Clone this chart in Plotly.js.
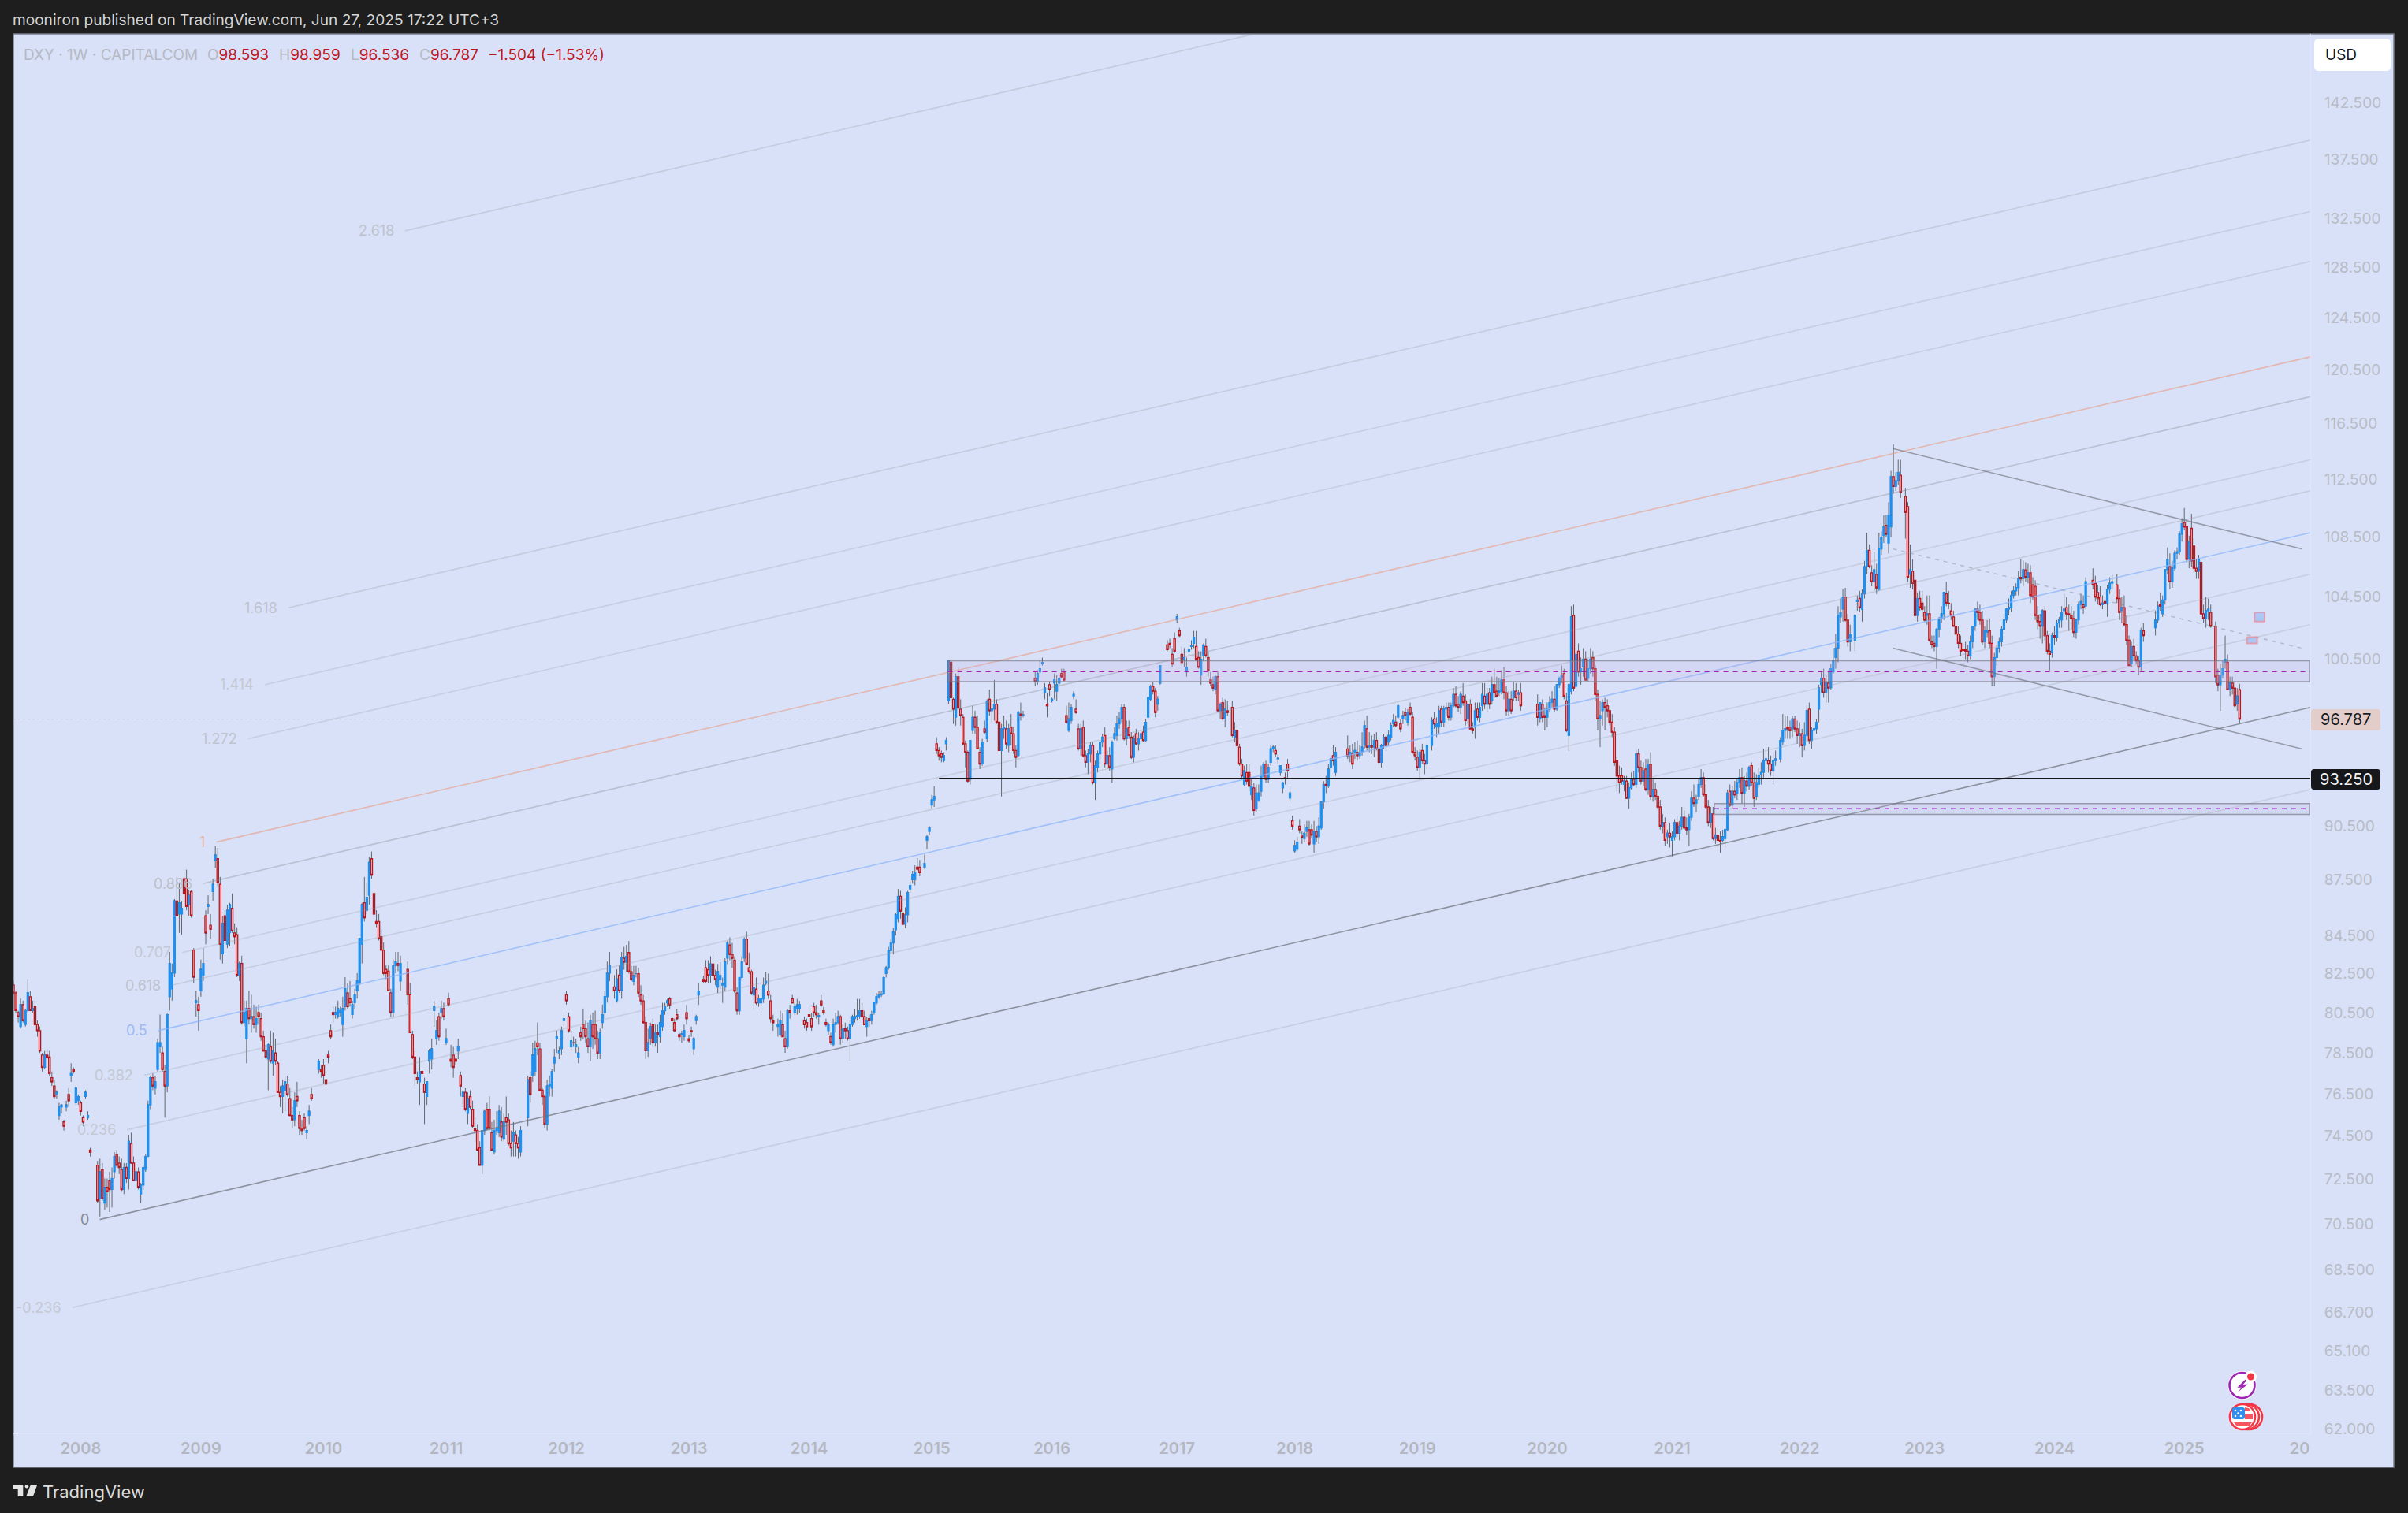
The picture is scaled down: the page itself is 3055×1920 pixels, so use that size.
<!DOCTYPE html>
<html><head><meta charset="utf-8">
<script src="https://cdn.plot.ly/plotly-3.0.1.min.js"></script>
<style>html,body{margin:0;padding:0;background:#1e1e1e;overflow:hidden}</style>
</head><body><div id="chart" style="width:3055px;height:1920px"></div>
<script>
var G='gap';
// weekly candles, each row: open,high,low,close
var a1=[81.3,81.5,80.8,80.9,80.9,81,79.9,80,79.9,80,79.4,79.7,79.2,80.6,79.1,80.3,80.3,80.5,79.4,79.5,79.3,80.1,79.2,80,80,81.6,79.9,80.9,80.7,81,80,80,80,80.5,79.9,80.1,80.2,80.5,79.2,79.3,79.3,79.5,78.7,79,79,79.2,77.9,78,77.8,77.9,77,77.2,77.2,78,77.1,77.8,77.8,78.1,77.6,77.7,77.7,78,76.8,76.9,76.7,77,76.3,76.5,76.3,76.6,75.7,75.8,75.9,76.1,75.7,76,74.9,75.5,74.7,75.3,75.3,75.4,75,75.4,74.6,74.7,74.2,74.4,75.3,75.6,75.1,75.4,75.9,76.2,75.3,75.6,76.8,77.4,76.5,76.9,77.1,77.2,76.9,77,75.5,76.3,75.4,76.2,75.6,75.9,75.4,75.8,75.5,75.6,74.9,75.1,74.8,74.9,74.4,74.6,75.8,76.1,75.7,76,74.8,75.1,74.7,74.9,73.3,73.4,73,73.2];
var a2=[72.6,72.8,70.9,71,71.1,72.9,70.3,72.3,72.4,72.7,71,71.1,70.9,72,70.6,71.6,71.6,72,70.7,71.4,71.9,72.3,70.5,71.5,71.5,72.5,70.7,72,72.3,73.2,72,73,73.1,73.3,72.5,72.6,72.7,73,72.2,72.5,72.4,72.9,71.4,71.5,71.5,72.7,71.3,72.5,72.5,72.7,71.8,72,72,74,71.5,73.7,73.6,74.1,72.7,72.7,72.7,73,71.9,71.9,71.9,72.5,71.5,72.3,72.3,72.5,71.5,71.6,71.3,71.8,70.9,71.7,71.7,72.6,71.5,72.5,72.4,73.1,72.3,73,73,75.6,73,75.4,75.4,76.8,75.2,76.7,76.7,76.9,76.1,76.3,76.2,76.8,75.9,76.5,77.1,78.6,77,78.4,78.2,79.8,77.9,78.4,77.9,78.2,77,77.1,77,77.3,74.8,76.3,76.3,79.9,76,79.8,80.7,83,80,82.4,81.1,82.4,80.5,81.9,81.9,85.8,81.7,85.7,85.7,87,84.9,84.9,85,86.7,84,85.6,85,85.7,83.9,85.3,86.9,87.3,85.5,86.1,86.9,87.4,85.2,85.4,85.5,86.3,84.9,86,86.2,86.3,84.8,84.9];
var a3=[83.1,83.2,81.4,81.7,80.4,81,79.7,80.5,80.3,80.7,79,80,81,82.6,80.7,82.1,81.8,83.2,81.5,82.4,84.9,85.2,83.4,84,85.4,86,85,85.5,84.4,85,83.7,84.2,86.2,86.9,85.7,86.6,87.9,88.7,87.5,88.2,88,88.6,86.5,86.7,86.6,87,82.6,83.4,82.9,84.9,82.4,84.5,84.9,85.2,83.5,83.6,83.4,85.5,83.2,85.2,84,85.6,83.3,85.5,85.3,86.1,84,84.1,84,84.5,83.4,83.8,83.9,84.3,81.7,81.8,81.8,82.5,81.5,82.4,82.4,82.8,79.3,79.4,79.4,80.5,79.2,79.9,78.6,80.5,77.4,80.1,80.1,81,79.3,79.6,79.6,80.8,78.9,79.7,79.7,80.3,79.1,79.3,79.3,80.2,78.9,79.6,79.9,80.3,79.3,79.7,79.6,79.9,78.5,78.7,78.7,79,78,78,78,78.3,77.6,77.7,77.6,78.4,76.1,78.3,78.2,79,77.4,77.5,77.4,78.9,76.8,78,77.9,78.6,77.3,77.5,77.4,77.5,76,76,76,76.3,75.3,75.8,75.8,76.6,75,76.3,76.1,76.8,75.1,76.5,76.4,76.8,75.8,75.9,75.7,76.2,74.9,74.9,74.9,75.3,74.3,74.7,74.7,76,74.4,75.6,75.8,76.5,75.3,75.6,74.9,75.1,74,74.3,74.3,74.7,74,74.2,74.8,75,74.2,74.3,74.1,74.4,73.8,74.2,74.9,75.4,74.5,75.1,75.9,76.2,75.6,75.7];
var a4=[77.1,77.6,76.9,77.5,77.1,77.3,76.7,77,77.3,77.6,76.4,76.8,76.6,76.9,76.1,76.4,77.8,78,77.4,77.7,79,79.3,78.6,78.7,79.9,80.2,79.4,79.8,79.8,80.2,79.6,79.9,79.7,80.5,79.6,80.1,79.9,80.2,79.7,80,79.3,80.7,78.7,80.1,80.2,81.7,80,81.1,80.9,81.4,80.1,80.2,80.6,81.5,80.2,80.4,79.8,80.5,79.6,80.3,80.4,81.1,80.1,80.8,81,81.9,80.6,81.5,81.4,83.7,81.3,83.7,83.4,85.6,82.4,85.5,85.6,87,84.6,84.8,85.2,86.7,85,85.9,86,88.1,85.5,87.8,88,88.4,86.9,87.1,86.1,86.3,85,85,84.6,85.2,84.3,84.5,84.6,85,83.6,83.7,83.8,84.2,83.1,83.1,83.1,83.5,81.8,81.9,82.1,82.3,81.6,81.9,82,82.3,81,81,80.9,81.1,79.7,79.9,79.9,82.6,79.7,82.3,82.3,83,81.9,82.5,82.4,83,82,82.3,81.5,82.8,81,82.4];
var a5=[82.1,82.5,80.3,80.8,80.8,81.4,78.9,78.9,78.8,79,77.6,77.7,77.7,78,76.3,76.9,76.7,77,76.4,76.6,76.5,77.7,75.4,77,77,77.3,76.1,76.9,76.4,76.7,74.5,76,75.8,76.5,75.4,76.5,77.5,78.1,76.9,78,77.6,78.6,77.1,78.1,80,80.5,79.2,80.2,78.6,79.5,78.3,79,79.7,79.9,78.5,78.7,79.9,80.5,79.6,80.1,80.1,80.4,79.5,79.7,78.4,79.1,78.3,78.6,80.6,80.9,80.2,80.3,77.6,78.3,77.2,77.5,77.8,78.2,76.7,77.2,77.6,77.7,77.3,77.5,78,78.6,77.6,78.2,76.8,77,75.8,76.3,75.8,76.1,75.3,76,76,76.2,75.1,75.2,75,76,74.5,75.7,75.8,76.1,75.2,75.3,75.2,75.6,74.3,74.4,74.3,74.8,73.7,74.2,74.2,74.5,73.3,73.3,73.4,73.7,72.6,72.6,72.6,74.2,72.2,74.2,74.2,75.2,74,75.1,75.2,75.5,74.2,74.3,75.2,75.8,74.2,74.3,74.1,74.6,73.3,73.3,73.2,74.7,73.1,74.2,74.2,75.1,74,74.3,74.1,75.4,73.9,75.1,74.6,75.3,73.7,73.9,73.8,75,73.7,74.6,74.8,75.8,74,74.6,74.7,75,73.5,73.6,73.6,74.2,73,73.4,73.7,74.6,73,74.1,74,74.2,73,73.6,73.6,73.9,72.9,73.4,73.2,74.4,73,74.2];
var a6=[74.8,76.8,74.4,76.6,76.7,77,75.5,75.9,76.8,78.4,76.5,77.8,77,78.5,76.8,78.1,78.4,79.4,77.8,78.2,78.1,78.4,76.1,76.1,76.1,76.2,75.4,75.8,75.8,75.9,74.3,74.5,74.5,76.6,74.2,76.3,76.3,76.8,75.8,76.4,76.2,77.1,75.8,77,77.4,78.1,77,77.7,78.6,79,77.9,78.7,77.9,78.2,77.6,78,78.1,79.2,77.8,79,79.5,79.9,78.6,79.6];
var a7=[80.8,81,80.3,80.5,79.7,79.9,78.9,79,78.2,79,78,78.5,78.4,78.7,78.2,78.4,78.2,78.6,77.9,78.3,77.7,78.2,77.4,77.9,78.9,79.2,78.5,78.7,79.3,80.1,78.6,79.1,79.1,79.5,78.4,78.7,78.6,79.4,77.9,78.2,78.2,79.8,77.5,79.5,79.3,79.9,78.1,78.7,79.3,80,78.3,78.6,78.6,79,77.6,77.9,77.9,79.1,77.6,78.9,79.4,80.3,79.1,79.8,79.9,81,79.6,80.7,80.7,82.5,80.4,81.9,81.9,83,81.5,82.3];
var a8=[81.2,81.8,80.6,81,80.5,82.1,80.4,81.6,81.8,82.3,80.9,81,81,83,80.6,82.7];
var b1=[83.3,83.9,82.7,83.1,83.1,84,82.6,83.4,83.6,84.2,82.5,82.6,82.6,82.9,82.1,82.2,82.1,82.9,81.9,82.4,82.5,82.9,82.3,82.5,82.5,82.8,81.3,81.5,81.4,81.9,80.9,81.1,81.1,81.4,80,80,80,80.3,78.2,78.6,78.6,79.7,78.3,79,79.2,80,78.9,79.8,79.9,80.2,78.8,79,79,79.9,78.8,79.5,79.5,79.9,78.5,79.4,79.3,80.4,79,80,79.8,81,79.6,80.6,80.6,81,80.4,80.8,81,81.2,80.8,81.1,81.2,81.3,80.7,80.9,80.2,80.3,79.6,80.1,80,80.2,79.6,79.6,80.4,80.7,80.1,80.2,79.4,79.5,79.1,79.3,79.4,79.6,79,79.45,79.3,79.9,79.1,79.6,80.5,80.9,79.9,80.2,79.2,79.4,79,79.1,79.6,79.8,79.3,79.55,78.7,79.3,78.4,79.2,80.1,80.4,79.9,80.3,81.4,82,80.9,81.6];
var b2=[82.2,82.4,82,82.1,82.8,83.2,82,82.1,82.7,83.2,82,82.4,82.4,83.4,82,83,83,83.5,82.1,82.4,82.4,82.7,81.9,82.2,81.8,83,81.5,82.6,82.2,83.1,81.7,82.4,81.9,82.3,81,82,81.8,83.3,81.6,83.1,83.3,84.2,83,84.1,84,84.4,83.2,83.5,83.5,84.1,82.8,83.3,83.2,83.4,81.5,81.6,81.5,81.8,80.4,80.6,80.6,82.3,80.4,82.3,82.3,83.4,82.2,83.1,83.3,84.4,83.1,84.3,84.3,84.7,83,83,82.8,83.6,82.5,82.6,82.6,82.7,81.4,81.5,81.4,82,80.7,81.8,81.7,82.3,80.9,81,81,81.4,80.8,81.2,81,81.7,80.5,81.2,81.2,82.3,81,81.9,82,82.6,81.9,82.1,81.6,82.5,81.2,81.4,81.1,81.4,80,80.2,80.1,80.4,79.6,80];
var b3=[79.8,80.2,79.3,79.9,79.4,80.6,79.3,80.1,79.9,80.5,79.3,79.3,79.2,79.6,78.5,78.8,78.8,80.7,78.7,80.6,80.6,80.9,80.2,80.5,81.2,81.4,81,81,80.5,81,80.4,80.8,80.7,81.2,80.4,80.9,80.7,81.1,80.5,80.9,G,80.1,80.3,79.7,79.9,80,80.2,79.6,79.8,80.4,80.6,80.1,80.3,80.2,80.5,79.6,79.8,80.8,81,80.3,80.5,80.5,80.9,80.2,80.4,80.3,80.5,79.9,80.35,81.1,81.4,80.8,80.9,80.6,80.8,80.4,80.5,80,80.2,79.8,79.9,79.6,80,79.4,79.9,79.3,79.5,78.9,79,78.9,80.2,78.8,79.9,79.9,80.5,79.5,80,80,80.6,79.9,80.3,80.3,80.4,78.9,79.2,79.2,79.9,79,79.7,79.7,80,79.2,79.6,79.6,79.8,79.1,79.2,79.2,79.9,78.1,79.7];
var b4=[79.7,80.1,79.4,79.9,79.9,80.4,79.8,80.3,80.2,80.7,80,80.3,80.3,81.2,80.1,80.35,80.3,81.2,80.2,80.6,80.6,81,80.1,80.3,80.3,80.6,79.9,79.9,79.8,80.3,79.3,80.1,80.2,80.4,79.8,80.1,80.1,80.6,79.9,80.4,80.5,81,80.4,81,81,81.5,80.9,81.3,81.3,81.6,81.2,81.4,81.4,81.6,81.3,81.45,81.45,82.4,81.4,82.3,82.5,82.9,82.3,82.8,82.8,83.9,82.7,83.7,83.7,84.3,83.5,84.1,84.1,84.9,83.5,84.7,84.8,85.7,84.5,85.6,85.4,87,85.2,86.6,86.6,86.9,85.4,85.8,85.7,86.1,84.7,85.1,85.1,86,84.9,85.6,85.6,86.9,85.2,86.8,87,87.5,86.8,87.2,87.5,88,87.3,87.8,87.5,88.3,87.2,87.9,88.2,88.7,88,88.1,88.2,88.6,87.7,87.9,G,88.2,88.9,88.1,88.4];
var c1=[89.7,90,89.2,89.9,90.2,90.5,90,90.4,91.7,92.3,91.5,92,92,92.8,91.6,92.2,95.3,95.7,94.7,94.9,94.9,95.1,94.3,94.6,94.7,94.9,94.2,94.5,94.3,94.8,94.2,94.6,95.3,95.7,94.9,95.5,97.9,100.4,97.7,100.4,100.3,100.5,98,98.1,98,98.1,96.5,97.4,96.9,99.6,96.4,99.4,99.4,100,97.5,97.5,97.4,98,96.4,97,96.9,97.1,95.2,95.3,95.3,95.5,93.9,94.8,94.8,94.9,93,93.1,93.2,95.5,92.9,95.5,96.1,97.6,95.9,96.9,96.9,97.3,95.9,96.3,96.3,97,95,95,94.8,95.1,93.8,94.1,94.1,95.6,94,95.4,96.2,96.7,95.9,96,95.6,98,95.4,97.9,98,98.6,97,97.3,97.3,98,96.6,97.4,97.4,99.2,96.7,97.7,97.7,98,96.5,96.6,96.6,97,94.8,94.9,94.9,96.5,92.2,96.2,96.2,97,95.6,96.3,96.2,96.7,95,95.3,95.2,96.5,94.8,96.2,96.3,97.1,95.2,95.9,95.9,96.3,94.7,94.9,94.9,95.2,93.9,94.5,94.6,97.3,94.5,97.2,97.1,97.8,96.7,97,97,97.3,96.9,97.05];
var c2=[99.3,99.7,98.8,99.1,99.1,99.8,98.9,99.6,99.7,100.4,99.4,99.9,100.2,100.6,100.1,100.3,98.4,99,98,98.7,97.7,98.4,96.9,97.6,98.9,99.1,98.2,98.6,97.9,98.1,97.8,98,99,99.6,98,99.2,98.5,99.5,97.9,98.9,99,99.5,98.9,99.3,99.6,99.9,99.3,99.4,99.7,99.9,99.1,99.2,97,97.6,96.5,96.6,96.1,97.8,96,96.8,96.7,97.7,96.5,97.5,98.2,98.5,98,98.3,97.4,98,97.1,97.2,96.2,96.5,94.9,95,95,96.5,94.6,96.2,96.3,96.7,94.5,94.6,94.6,94.9,93.9,94.2,94.2,95,93.5,94.7,94.7,95.4,94.2,95.2,95.2,95.4,92.9,93,93,94.3,92,94,93.9,94.9,93.6,94.7,94.7,95.5,94.4,95.4,95.4,95.9,95.1,95.7,95.8,96.3,93.9,94.1,94.1,94.9,93.8,94.6,94.6,95.1,93.7,93.9,93.8,95.5,93,95.4,95.6,96.3,95.5,95.9,95.8,97,95.5,96.5,96.5,97.2,96.2,96.8,96.8,97.7,96.6,97.5,97.5,97.7,95.5,95.6,95.6,96.7,95.2,96.2,96.3,96.7,95.6,95.8,95.7,96,94.4,94.5,94.5,95.8,94.2,95.6,95.9,96.2,95.2,95.3,95.3,96,94.9,95.6,95.6,96,94.9,95.9,96,96.4,95.4,95.5,95.5,96.8,95.4,96.6,96.9,98.2,96.8,98.1,98,98.9,97.9,98.8,98.8,99.1,98.3,98.5,98.5,98.7,96.9,97.2,97.7,98.2,97.3,98,99,100.1,98.9,100.1];
var c3=[101.4,101.7,101,101.1,101.5,101.8,101.2,101.4,100.8,101.2,100,100.2,101.8,102.2,100.9,101,103,103.4,102.8,103.2,102.3,102.5,101.9,102,100.8,101.3,100.1,100.3,100.5,101.2,100,100.6,99.7,100.6,99.4,100,101,101.5,100.8,101.1,101.3,101.7,101.1,101.35,101.5,102.3,101.2,101.9,101.3,102.3,100.4,100.5,100.6,101,99.9,100,99.5,101,98.9,100.5,100.7,101.5,100.4,101.4,101.3,101.8,100.6,100.7,100.6,101,99.4,99.8,99.2,99.7,98.8,99,98.9,99.4,98.5,98.7,98.6,99.5,98.3,99.4,99.4,99.7,97.3,97.3,97.3,97.8,96.8,97.7,97.8,98.1,96.7,96.8,96.8,98,96.3,97.4,97.3,97.9,97,97.2];
var c4=[97.5,97.9,95.7,95.8,95.7,96.6,95.4,96.1,96.1,96.5,95,95.2,95.1,95.3,94,94.1,94.1,94.4,93.2,93.4,92.9,94,92.8,93.7,93.6,94.1,92.9,93.1,93.6,94.1,92.5,92.8,92.3,93.3,92,92.8,92.7,93,91.1,91.4,91.5,92.9,91.3,92.4,92,92.9,91.9,92.4,92.5,94,92.2,93.4,93.4,94.2,93.2,94.1,94.1,94.3,93,93.2,93.2,94.1,93,93.9,94.2,95.2,94,95,95,95.2,94.8,95.1,94.9,95.2,94.5,94.7,94.4,94.7,94.1,94.45,93.6,94,93.4,94,92.7,93,92.4,93,93.3,93.6,92.9,93.25,94.1,94.4,93.3,93.7,92.1,92.8,91.9,92.4,90.8,91.1,90.3,90.5,89.1,89.7,89,89.4,89.2,89.9,89.1,89.6,90.5,90.9,90.1,90.3,90,90.2,89.5,89.85,89.8,90.6,89.6,90.1,90.2,90.8,89.9,90.4,90.3,90.8,89.4,89.5,90.3,90.6,89.8,90,89.5,90.8,89,90.2,90.2,90.5,89.6,89.9,89.9,91,89.5,90.5,90.4,91.6,90.3,91.9,91.9,93.1,91.5,92.9,92.9,93.4,92.4,92.85,92.8,94.1,92.7,93.8,93.9,94.6,93.5,94.4,94.6,95.2,94,94.3,93.6,95.1,93.4,94.8];
var c5=[95,95.8,94.4,94.6,94.6,95.2,94.2,94.8,94.7,95.3,93.8,94.1,94.8,95.4,94.4,94.9,94.8,95.5,94.3,94.6,94.6,95.2,94.4,94.8,94.8,96,94.6,95.1,95.2,96.7,95,96.4,96.2,97,94.9,95.1,95.1,96,94.8,95.2,95.2,95.8,94.7,95.1,95.1,95.9,94.5,95.5,95.5,96,94.9,95,95,95.5,94,94.2,94.2,95.3,93.9,95.2,95.2,95.9,95,95.7,95.7,96,94.9,95.2,95.4,96.1,95.2,95.8,95.7,96.6,95.5,96.4,96.5,97.1,96.3,96.7,96.6,97,96.3,96.4,96.9,97.7,96.8,97.6,96.5,96.8,96,96.2,96.8,97.3,96.5,97,97.2,97.5,96.7,97,96.6,97.4,96.4,97.2,97.5,97.8,97,97.1,96.9,97.2,94.7,94.8,94.8,95.1,94.3,94.6,94.5,94.9,93.7,93.9,93.9,95,93.3,94.8,94.9,95.3,94.1,94.3,94.3,94.7,93.5,94.1,94.1,95.3,93.8,95.2];
var c6=[95.2,96.9,94.9,96.7,96.8,97.2,96.2,96.5,96.3,96.9,95.7,96.5,96.3,97.6,95.9,97.3,97.4,97.6,96.3,96.6,96.6,97.6,96.3,97.4,97.4,97.8,97,97.5,97.5,97.8,96.7,96.9,96.9,97.8,96.7,97.6,97.6,98.7,97.5,98.3,98.3,98.8,97.5,97.6,97.7,98.2,97.2,97.5,97.5,98.5,97.1,98.3,98.2,99,97.6,97.8,97.9,98.3,96.4,96.7,96.8,97.9,96.5,97.7,97.7,98,96.2,96.2,96.2,96.6,95.9,96.1,96.3,97.8,95.6,97.3,97.4,97.8,96.7,96.9,96.9,97.8,96.6,97.5,97.6,99,97.3,98.3,98.2,99,97.4,97.7,97.7,98.7,97.2,98.3,98.4,98.7,97.4,97.7,97.9,99.4,97.7,98.9,98.9,99.9,98.1,98.4,98.5,99.4,98.1,98.2,98.4,99.3,98.2,98.5,98.5,99.8,98.3,99.2,99.2,100,98,98.4,98.4,98.8,97,97.3,97.3,98.5,97,98,98,98.5,97.1,97.3,98.1,99.1,97.9,98.5,98.5,99,97.9,98.1,98.3,98.6,97.9,98.4,98.4,99,97.3,97.6];
var d1=[97.7,98.3,96.4,96.9,96.8,97.8,96.6,97.8,97.7,98,96.6,96.9,97,97.5,96.1,96.9,96.9,97.8,96.3,97.4,97.4,98.2,97.2,97.8,97.8,98.5,97.5,98,98,98.8,97.2,97.4,97.4,98.9,97.3,98.9,98.9,99.4,98.7,99.3,99.3,100.1,99,99.5,99.6,99.9,98,98.2,97.9,98.4,96,96.1,95.8,99,94.9,98.9,98.5,103.9,98.3,103.2,103.3,104,98.5,98.7,98.8,101.4,98.4,100.8,101,101.5,99.4,99.7,99.7,100.6,98.9,99.9,100,101.2,99.4,100.5,100.5,101,99.2,99.2,99.3,100.5,99.1,99.9,99.9,101.2,99.6,100.5,100.6,101,99.4,99.9,99.9,100.1,97.9,98.3,98.3,98.6,96.1,96.8,96.8,97.9,95.1,97,97.3,98,96.4,97.8,97.8,98.1,96.1,97.5,97.6,98,96.9,97.3,97.3,97.6,96.4,96.6,96.6,97.1,95.7,96,96,96.3,94,94.2,94.3,94.5,92.5,93.4,93.4,94,92.4,93,93.4,93.9,92.9,93.1];
var d2=[92.9,93.4,92.5,93.1,93.1,93.4,92.2,92.1,92.1,93,91.5,92.7,92.7,93.6,92.6,93.2,93.2,93.7,92.8,92.9,92.9,94.9,92.7,94.7,94.7,95,93.6,93.9,93.9,94.3,92.9,93.1,93.1,94.2,92.8,93.7,93.8,94.4,92.5,92.6,92.6,94.4,92.3,94.1,94.1,94.8,92,92.2,92.2,93.2,91.9,92.6,92.6,93,92,92.2,92.2,92.6,91.5,91.6,91.6,92,90.3,90.5,90.5,91.2,90.1,90.7,90.7,91,89.4,89.7,89.9,90.3,89.5,90.1,90.1,90.7,89.3,89.9,89.7,90.2,88.8,89.9,89.9,90.9,89.7,90.7,90.7,91.1,89.9,90.1,90.1,90.8,89.7,90.5,90.5,91.6,90.3,91,91,91.4,90.3,90.4,90.4,91,90,90.3,90.3,91.2,89.4,91,91,92.5,90.8,92.1,92.1,92.9,91.6,91.8,91.8,92.3,91.3,92,92.2,93.2,92,92.9];
var d3=[92.9,93.8,92.7,93.3,93.3,93.6,92.2,92.3,92.3,92.9,91.5,91.6,91.6,92,90.5,90.7,90.7,91.6,90.4,91.2,91.2,91.6,89.7,89.8,89.8,90.4,89.5,90,90,90.4,89.1,89.7,89.7,90.2,89,89.65,89.7,90.3,89.6,89.9,89.8,90.5,89.3,90.3,90.3,92.6,90.2,92.4,92.5,92.9,91.6,91.7,91.7,92.8,91.5,92.5,92.5,93.1,92.1,92.3,92.4,93.2,92,93,93,93.8,92.7,93.3,93.3,93.9,91.8,92.4,92.4,93.4,91.6,93.1,93.1,93.6,92.5,92.8,92.8,94,92.6,93.9,94,94.2,92.8,93,93,93.6,91.6,92.1,92.2,93.5,92,93,92.9,93.9,92.7,93.4,93.5,94.2,92.9,93.6,93.6,95,93.3,94.3,94.3,95,94,94.4,94.3,95.1,93.6,94.1,94.1,94.6,93.4,93.7,93.7,94.8,92.9,94.3,94.3,94.9,94,94.4];
var d4=[94.4,95.7,94.2,95.5,95.4,97.1,95.2,96.1,96.1,97,95.6,96.2,96.3,97,95.6,96.2,96.3,96.7,95.6,96.1,96.2,97,95.7,96.8,96.8,97,96,96.2,96.2,96.7,95.3,95.8,95.8,96.6,95.1,95.9,95.9,96.2,94.5,95.2,95.2,96.6,94.9,95.8,95.8,97.6,95.5,97.3,97.4,97.8,95.3,95.5,95.5,96.3,95,96.1,96.1,96.6,95.6,96.2,96.2,96.8,95.9,96.6,97.4,98.9,96.6,98.7,98.9,99.7,98.4,99.3,99.3,99.9,98.1,98.4,98.4,99.5,97.8,99,99,99.8,97.8,98.7,98.7,100.2,98.6,99.9,99.7,101.2,99.6,100.4,100.6,102.1,99.9,101.2,101.2,103.9,100.3,103.3,103.2,104.4,102.8,103.5,103.7,105,102.9,104.5,104.5,105.1,102.9,103,103,103.4,101.3,101.6,101.6,102.7,101,102.1];
var e1=[101.7,103.4,101,103.3,104.2,104.6,103.6,104.3,104.4,104.9,103.5,103.8,103.7,105,102.9,104.7,104.7,106.9,104.4,106.5,106.5,108.8,106,107.6,107.6,108,106.4,106.5,106.1,106.6,105.2,105.5,105.5,107.5,104.9,106.3,106,106.7,104.7,105.1,105,108.8,104.9,107.7,107.7,108.9,107.3,108.5,108.6,110,108.1,109.2,109.3,110,108.5,108.7,108.1,110.9,107.4,110,109.2,113.1,108.5,112.7,112.7,115,111.5,112,112,113,111.7,112.4,112.4,113.9,112.1,113,112.8,113.9,111.2,111.6,G,111.3,111.9,108.4,110.2,110.4,110.9,110,110.5];
var e2=[110.6,110.9,105.5,105.8,106,108,105.1,106.3,106.2,107,105,105.4,105.6,105.8,103.1,103.3,103.3,104.8,102.9,104.4,104.4,104.9,103.6,103.8,104.1,104.9,103.2,103.7,103.5,103.9,102.9,103,103.3,104.6,102.7,103.4,103.4,104.6,101.6,101.7,101.6,102,101.2,101.4,101.5,102,101,101.3,101.3,102.5,99.9,102.4,102.4,103.2,101.9,103,103.1,103.9,102.8,103.4,103.4,104.7,103,104.8,104.7,105.5,103.9,104.1,104.1,104.9,103.7,104.05,103.6,104.1,103,103.3,103.2,103.6,102.6,102.6,102.6,103.2,102,102.1,102.1,102.6,101.2,101.5,101.5,102,100.7,101,101.1,101.5,99.9,101.05,101.1,101.6,100.5,101,101,101.4,100.3,100.7,100.7,102,100.5,101.6,101.6,102.6,101.2,102.6,102.6,103.7,102.3,103.7,103.7,104.2,103,103.5,103.5,104,102.7,103,103,103.6,101.4,101.6,101.6,102.6,101.2,102.3,102.2,103,101.9,102.3,102.3,103.1,101.2,101.5,101.5,102,98.8,99.4,99.4,100.9,98.8,100.6];
var e3=[100.6,101.4,100.1,101.2,101.2,101.9,100.9,101.6,101.6,102.6,101.3,102.4,102.4,103.4,102.1,103,103,103.8,102.8,103.7,103.7,104.4,103.3,103.8,103.8,104.9,103.5,104.6,104.6,105.2,104.4,104.9,104.9,105.4,104.6,105.1,105.1,106.2,104.6,105.7,105.8,107,105.4,105.7,105.7,106.9,105.2,106.3,106.3,106.8,105.5,105.8,105.8,106.7,105.4,106.1,106.1,106.6,104.1,104.6,105.3,105.8,104.3,104.5,105.2,105.6,103,103.3,103.3,103.9,102.4,102.9,102.9,103.4,101.8,102.6,102.6,103.7,101.5,103.6,103.6,103.9,101.7,102,102,102.3,100.8,101,101,101.5,99.8,100.8,100.9,102.2,100.6,102,102,102.6,101.4,101.9,101.9,103,101.6,102.8,102.8,103.2,102.5,103,103,103.9,102.5,103.5,103.6,104.7,103.2,103.7,103.8,104.5,103,103.4,103.4,104,102.3,103.35,103.3,103.9,102.4,103.1,103.1,103.6,101.9,102.2,102.2,103.1,101.8,103,103,104.2,102.7,104,104,104.7,103.7,104.2,104,104.6,103.4,103.8,103.9,105.8,103.7,105.5];
var e4=[105.6,106.4,105,105.3,105.4,105.9,104.2,104.5,104.8,105.3,104,104.4,104.5,105.2,103.9,104,104,104.6,103.7,104.1,104.2,105,103.8,104.1,104.1,105.3,103.2,105,105,105.8,104.7,105.4,105.4,106,105,105.5,G,105.3,106,104.1,104.4,104.4,105,103,103.5,103.6,104.5,102.8,103.8,103.8,104.6,102.6,102.7,102.7,103.3,101.4,101.7,101.7,102,100.1,100.1,100.2,101.6,100,101.3,101.3,101.8,100.4,100.7,100.7,101,100.2,100.4,100.4,100.7,99.5,100,100,102.5,99.7,102.3,102.3,102.8,101.6,102];
var e5=[102.5,103.6,102,103,103,104.2,102.8,103.9,104,104.8,103.6,103.9,103.4,104.6,103.2,104.3,104.3,106.3,104,106.3,106.3,107.8,106,107,106.5,107.4,105,105.5,105.5,106.9,105.1,106.4,106.4,107.6,106.2,107.4,107.4,107.8,107,107.5,107.5,108.9,107.3,108.7,108.7,109.8,108.2,109.4,109.5,110.5,109,109.2,109.2,109.7,106.8,107,107,108.6,106.4,108.2,109.1,110.1,106.5,106.9,107.9,108.4,106.1,106.4,106.4,107,105.7,106.2,106.2,107.3,105.7,107,106.8,107.1,103.3,103.4,103.4,104,102.8,103.1,103.1,104.5,102.5,103.6,103.6,104.4,103,103.7,103.5,104,102.5,102.6];
var e6=[102.6,102.9,99,99.4,99.5,99.9,98.5,98.9,98.9,100.2,97.3,99.5,99.5,100.4,99.3,99.9,100.3,102,99.9,100.5,100.3,100.8,98.6,98.6,98.6,99.4,98.2,99,99,99.4,98.3,98.7,98.7,99.1,97.5,97.6,97.7,98.7,97.3,98.2,98.593,98.959,96.536,96.787];
var candleChunks=[a1,a2,a3,a4,a5,a6,a7,a8,b1,b2,b3,b4,c1,c2,c3,c4,c5,c6,d1,d2,d3,d4,e1,e2,e3,e4,e5,e6];
var chunkStartBar=[0,35,75,127,164,214,230,250,254,287,318,348,380,425,480,507,555,590,634,670,702,735,766,788,825,865,891,916];
// the first eight chunks were read against a price scale 0.76% low: this recalibrates those readings
var chunkCalibration=[1.0076,1.0076,1.0076,1.0076,1.0076,1.0076,1.0076,1.0076,1,1,1,1,1,1,1,1,1,1,1,1,1,1,1,1,1,1,1,1];

// fib channel, one row per level
var fibLevels=['-0.236','0','0.236','0.382','0.5','0.618','0.707','0.886','1','1.272','1.414','1.618','2.618'];
var fibStartBar=[24.5,35.9,47.3,54.4,60.2,65.9,70.2,78.9,84.4,97.6,104.5,114.4,162.9];
var fibStartPrice=[66.9,70.7,74.8,77.4,79.6,81.9,83.6,87.3,89.6,95.6,98.9,103.8,131.5];
var fibEndPrice=[92.6,97.5,102.7,106,108.8,111.7,113.9,118.5,121.5,129,133.1,139.2,173.5];
var fibColors=['rgba(150,152,160,.26)','rgba(110,112,122,.7)','rgba(150,152,160,.26)','rgba(150,152,160,.26)','rgba(140,180,250,.75)','rgba(150,152,160,.3)','rgba(150,152,160,.26)','rgba(130,132,140,.36)','rgba(235,150,120,.55)','rgba(150,152,160,.26)','rgba(150,152,160,.26)','rgba(150,152,160,.3)','rgba(150,152,160,.3)'];
var fibLabelColors=['#c4c8d2','#85888f','#c4c8d2','#c4c8d2','#9dbaf2','#bfc3cd','#c4c8d2','#bbbfc8','#eab3a0','#bfc3cd','#c4c8d2','#bfc3cd','#bfc3cd'];
var lastBar=955.4;

var flagBars=[781.8,951.8];
var flagUpper=[114.7,107.7];
var flagMiddle=[107.7,101.2];
var flagLower=[101.2,95];
var upperZone={start:388.7,top:100.4,mid:99.72,bottom:99.09};
var lowerZone={start:707.5,top:91.79,mid:91.5,bottom:91.17};
var support={start:385,price:93.25};
var lastClose=96.787;
var markerBoxes=[{x0:932.2,x1:936.4,top:103.5,bottom:102.9},{x0:929,x1:933.3,top:101.9,bottom:101.5}];

var yearTickBars=[28,78,129,180,230,281,331,382,432,484,533,584,638,690,743,795,849,903,951];
var yearTickText=['2008','2009','2010','2011','2012','2013','2014','2015','2016','2017','2018','2019','2020','2021','2022','2023','2024','2025','20'];
var priceTickVals=[142.5,137.5,132.5,128.5,124.5,120.5,116.5,112.5,108.5,104.5,100.5,90.5,87.5,84.5,82.5,80.5,78.5,76.5,74.5,72.5,70.5,68.5,66.7,65.1,63.5,62];

// flatten
var X=[],O=[],H=[],L=[],C=[];
candleChunks.forEach(function(seg,s){
  var bar=chunkStartBar[s],k=0,m=chunkCalibration[s];
  while(k<seg.length){
    if(seg[k]===G){bar++;k++;continue;}
    X.push(bar);O.push(seg[k]*m);H.push(seg[k+1]*m);L.push(seg[k+2]*m);C.push(seg[k+3]*m);
    bar++;k+=4;
  }
});
var bodyHi=O.map(function(o,i){return Math.max(o,C[i]);});
var bodyLo=O.map(function(o,i){return Math.min(o,C[i]);});
var wickHi=H.map(function(h,i){return Math.max(h,bodyHi[i]);});
var wickLo=L.map(function(l,i){return Math.min(l,bodyLo[i]);});

// pixel helpers for page furniture only
var PL=17,PT=43,PW=2914,PH=1776;
function px(v){return (v-PL)/PW;}
function py(v){return 1-(v-PT)/PH;}
function poly(pts){return 'M'+pts.map(function(p){return px(p[0])+' '+py(p[1]);}).join('L')+'Z';}
function rrect(x0,y0,x1,y1,r){
  function P(a,b){return px(a)+' '+py(b);}
  return 'M'+P(x0+r,y0)+'L'+P(x1-r,y0)+'Q'+P(x1,y0)+' '+P(x1,y0+r)+'L'+P(x1,y1-r)+'Q'+P(x1,y1)+' '+P(x1-r,y1)+'L'+P(x0+r,y1)+'Q'+P(x0,y1)+' '+P(x0,y1-r)+'L'+P(x0,y0+r)+'Q'+P(x0,y0)+' '+P(x0+r,y0)+'Z';
}
function sh(o){o.xref='paper';o.yref='paper';o.layer=o.layer||'above';if(!o.line)o.line={width:0};return o;}
function circ(cx,cy,r,fill,lc,lw){return sh({type:'circle',x0:px(cx-r),x1:px(cx+r),y0:py(cy+r),y1:py(cy-r),fillcolor:fill,line:{color:lc||fill,width:lw||0}});}
function pathS(d,fill){return sh({type:'path',path:d,fillcolor:fill});}

var BG='#d8e1f8';
var traces=[];
// wicks then bodies, so the bodies cover the wick inside them
traces.push({type:'candlestick',x:X,open:C,close:C,high:wickHi,low:wickLo,hoverinfo:'skip',showlegend:false,
  increasing:{line:{color:'#55585f',width:0.9},fillcolor:'#55585f'},decreasing:{line:{color:'#55585f',width:0.9},fillcolor:'#55585f'}});
traces.push({type:'candlestick',x:X,open:O,close:C,high:bodyHi,low:bodyLo,hoverinfo:'skip',showlegend:false,
  increasing:{line:{color:'#1f8fee',width:1.1},fillcolor:'#1f8fee'},decreasing:{line:{color:'#b8161c',width:1.3},fillcolor:'#e4c3cc'}});
function line(x,y,color,w,dash){traces.push({type:'scatter',mode:'lines',x:x,y:y,line:{color:color,width:w,dash:dash||'solid'},hoverinfo:'skip',showlegend:false});}
fibLevels.forEach(function(l,i){line([fibStartBar[i],lastBar],[fibStartPrice[i],fibEndPrice[i]],fibColors[i],1.6);});
line([0,lastBar],[lastClose,lastClose],'rgba(150,150,160,.3)',1,'dot');
function zone(z){
  traces.push({type:'scatter',mode:'lines',x:[z.start,lastBar,lastBar,z.start,z.start],y:[z.top,z.top,z.bottom,z.bottom,z.top],fill:'toself',fillcolor:'rgba(200,175,225,.2)',line:{color:'rgba(110,112,122,.62)',width:1.5},hoverinfo:'skip',showlegend:false});
  line([z.start,lastBar],[z.mid,z.mid],'#a91fb8',1.6,'6px,6px');
}
zone(upperZone);zone(lowerZone);
line([support.start,lastBar],[support.price,support.price],'#16171b',1.8);
line(flagBars,flagUpper,'rgba(110,112,122,.62)',1.6);
line(flagBars,flagLower,'rgba(110,112,122,.62)',1.6);
line(flagBars,flagMiddle,'rgba(130,132,145,.45)',1.4,'5px,6px');
markerBoxes.forEach(function(b){
  traces.push({type:'scatter',mode:'lines',x:[b.x0,b.x1,b.x1,b.x0,b.x0],y:[b.top,b.top,b.bottom,b.bottom,b.top],fill:'toself',fillcolor:'rgba(145,180,245,.6)',line:{color:'rgba(235,140,155,.75)',width:2},hoverinfo:'skip',showlegend:false});
});

var F='Inter, "Noto Sans", sans-serif';
var anns=[];
function txt(x,y,t,size,color,extra){var a={xref:'paper',yref:'paper',x:px(x),y:py(y),text:t,showarrow:false,xanchor:'left',yanchor:'middle',font:{family:F,size:size,color:color},borderpad:0};for(var k in extra)a[k]=extra[k];anns.push(a);}
txt(15,25,'mooniron published on TradingView.com, Jun 27, 2025 17:22 UTC+3',19.1,'#d6d6d6');
var GR='#b6b9c3',RD='#c0161c';
txt(29,69,'DXY · 1W · CAPITALCOM',19,GR);
txt(262,69,'O<span style="color:'+RD+'">98.593</span>',19,GR);
txt(353,69,'H<span style="color:'+RD+'">98.959</span>',19,GR);
txt(444,69,'L<span style="color:'+RD+'">96.536</span>',19,GR);
txt(531,69,'C<span style="color:'+RD+'">96.787</span>',19,GR);
txt(618,69,'−1.504 (−1.53%)',19,RD);
txt(2949,69,'USD',19,'#131722');
txt(53,1893,'TradingView',22,'#dcdcdc');
txt(2976,913,'96.787',20,'#1a1c22',{xanchor:'center'});
txt(2976,989,'93.250',20,'#f2f2f2',{xanchor:'center'});
fibLevels.forEach(function(l,i){
  anns.push({xref:'x',yref:'y',x:fibStartBar[i],y:Math.log10(fibStartPrice[i]),text:l,showarrow:false,xanchor:'right',yanchor:'middle',xshift:-12,font:{family:F,size:18,color:fibLabelColors[i]}});
});

var shapes=[];
// panel background and frame
shapes.push(sh({type:'rect',layer:'below',x0:px(17),x1:px(3037),y0:py(1862),y1:py(43),fillcolor:BG,line:{color:'#7a7e8a',width:1.5}}));
// clip the lowest price label at the corner of the axes
shapes.push(sh({type:'rect',x0:px(2932),x1:px(3036),y0:py(1860),y1:py(1820),fillcolor:BG}));
// USD box
shapes.push(pathS(rrect(2936,49,3033,90,6),'#ffffff'));
// last price tags
shapes.push(pathS(rrect(2932,900,3020,927,4),'#e3cdcb'));
shapes.push(pathS(rrect(2932,976,3020,1002,4),'#16171b'));
// bolt icon
shapes.push(circ(2844.5,1758,18,'#ffffff'));
shapes.push(circ(2844.5,1758,16,'#ffffff','#9c27b0',2.6));
shapes.push(pathS(poly([[2848.3,1750.7],[2838.3,1760.7],[2844,1760.7],[2838.7,1766.7],[2851.7,1756.7],[2845.7,1756.7],[2851.7,1750.7]]),'#9c27b0'));
shapes.push(circ(2855.5,1747,7.5,'#ffffff'));
shapes.push(circ(2855.5,1747,4.5,'#f23645'));
// flag icon
shapes.push(circ(2854,1798,16,'#ffffff','#f23645',2.6));
shapes.push(circ(2850,1798,16,'#ffffff','#f23645',2.6));
shapes.push(circ(2845,1798,16,'#ffffff','#f23645',2.6));
shapes.push(pathS(rrect(2832,1786,2848,1801,3),'#2e8ff0'));
shapes.push(pathS(poly([[2848,1786],[2853,1787],[2856,1791],[2848,1791]]),'#f5565f'));
shapes.push(pathS(poly([[2848,1795],[2858,1795],[2858,1801],[2848,1801]]),'#f5565f'));
shapes.push(pathS(poly([[2834,1805],[2857,1805],[2853,1810],[2838,1810]]),'#f5565f'));
[[2836,1790],[2843,1790],[2836,1797],[2843,1797],[2839.5,1793.5]].forEach(function(p){shapes.push(circ(p[0],p[1],1.3,'#ffffff'));});
// TradingView logo
shapes.push(pathS(poly([[16,1884],[29.3,1884],[29.3,1898.7],[22.7,1898.7],[22.7,1890],[16,1890]]),'#e4e4e4'));
shapes.push(circ(34,1886.2,2.3,'#e4e4e4'));
shapes.push(pathS(poly([[39,1884],[47.3,1884],[42,1898.7],[33.3,1898.7]]),'#e4e4e4'));

var layout={width:3055,height:1920,paper_bgcolor:'#1e1e1e',plot_bgcolor:'rgba(0,0,0,0)',showlegend:false,
  margin:{l:PL,t:PT,r:3055-PL-PW,b:1920-PT-PH,pad:0,autoexpand:false},boxmode:'overlay',boxgap:0.3,boxgroupgap:0,
  xaxis:{type:'linear',range:[0,lastBar],tickmode:'array',tickvals:yearTickBars,ticktext:yearTickText,showgrid:false,zeroline:false,ticks:'',ticklabelstandoff:1,
    tickfont:{family:F,size:20,color:'#b4b7c0',weight:600},showline:true,linecolor:'#e0e6f9',linewidth:1,rangeslider:{visible:false},fixedrange:true,tickangle:0},
  yaxis:{type:'log',side:'right',range:[Math.log10(61.82),Math.log10(148.8)],tickmode:'array',tickvals:priceTickVals,ticktext:priceTickVals.map(function(v){return v.toFixed(3);}),showgrid:false,zeroline:false,ticks:'',ticklabelstandoff:13,
    tickfont:{family:F,size:19,color:'#b9bcc5'},showline:true,linecolor:'#e0e6f9',linewidth:1,fixedrange:true},
  shapes:shapes,annotations:anns};
Plotly.newPlot('chart',traces,layout,{staticPlot:true,displayModeBar:false});
</script></body></html>
